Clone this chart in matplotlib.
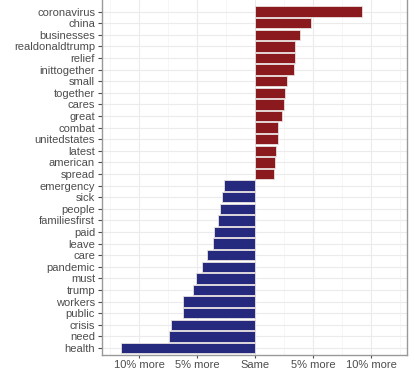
import numpy as np
import matplotlib
matplotlib.use("Agg")
import matplotlib.pyplot as plt

# words from top to bottom, with % difference (positive = red side)
words = ["coronavirus", "china", "businesses", "realdonaldtrump", "relief",
         "inittogether", "small", "together", "cares", "great", "combat",
         "unitedstates", "latest", "american", "spread",
         "emergency", "sick", "people", "familiesfirst", "paid", "leave",
         "care", "pandemic", "must", "trump", "workers", "public", "crisis",
         "need", "health"]
values = [9.2, 4.83, 3.85, 3.47, 3.42, 3.33, 2.78, 2.55, 2.53, 2.33, 1.95,
          1.95, 1.78, 1.75, 1.66,
          -2.64, -2.84, -2.99, -3.16, -3.51, -3.65, -4.17, -4.57, -5.12,
          -5.34, -6.18, -6.24, -7.21, -7.41, -11.55]
tick_vals = [-10, -5, 0, 5, 10]
tick_labels = ["10% more", "5% more", "Same", "5% more", "10% more"]

plt.rcParams['font.family'] = ['Liberation Sans', 'DejaVu Sans']

fig = plt.figure(figsize=(4.15, 3.69), dpi=100)
ax = fig.add_axes([102 / 415, 14 / 369, 305 / 415, 355 / 369])

n = len(words)
ypos = np.arange(n)[::-1]
colors = ['#8b1a1f' if v > 0 else '#262a7e' for v in values]
ax.barh(ypos, values, height=0.9, color=colors, edgecolor='#e8e0e0',
        linewidth=0.6, zorder=3)

ax.set_yticks(ypos)
ax.set_yticklabels(words)
ax.set_xticks(tick_vals)
ax.set_xticklabels(tick_labels)
ax.set_xticks([-12.5, -7.5, -2.5, 2.5, 7.5, 12.5], minor=True)
ax.set_xlim(-13.2, 13.1)
ax.set_ylim(-0.6, 30.0)

ax.grid(which='major', color='#ebebeb', linewidth=0.8, zorder=0)
ax.grid(which='minor', axis='x', color='#f3f3f3', linewidth=0.5, zorder=0)
ax.tick_params(axis='y', which='major', labelsize=8, colors='#4d4d4d',
               length=3, width=0.8, pad=2)
ax.tick_params(axis='x', which='major', labelsize=8, colors='#4d4d4d',
               length=2.5, width=0.8, pad=1)
ax.tick_params(axis='x', which='minor', length=0)
for lab in ax.get_xticklabels() + ax.get_yticklabels():
    lab.set_color('#4d4d4d')
for s in ax.spines.values():
    s.set_color('#999999')
    s.set_linewidth(1)
ax.spines['top'].set_visible(False)

fig.savefig("out.png", dpi=100)
